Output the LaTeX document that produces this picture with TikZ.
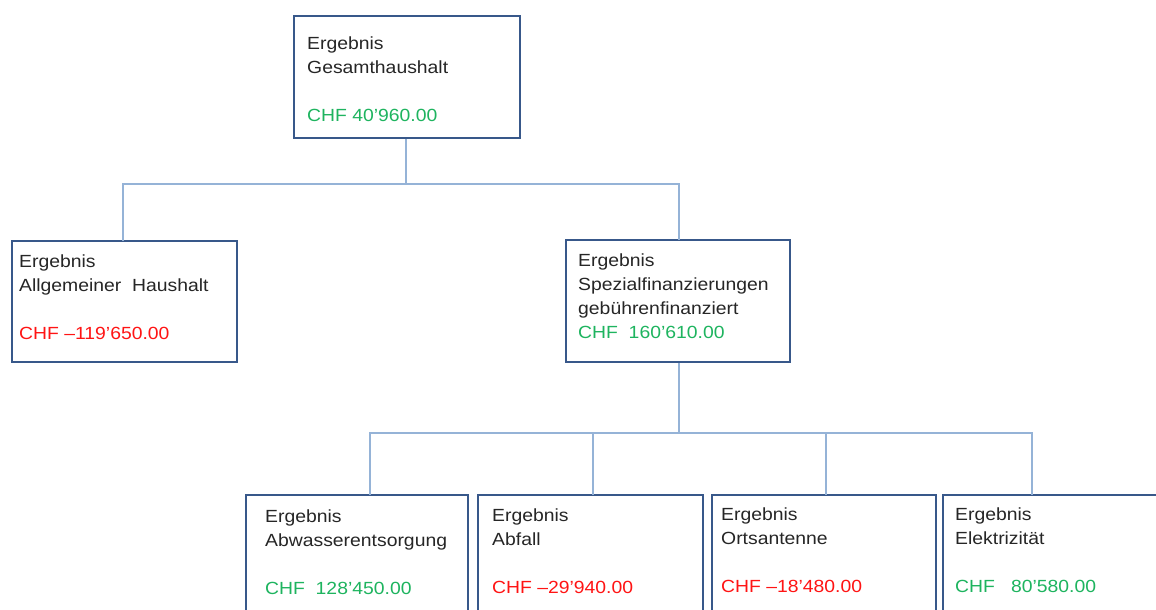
\documentclass[tikz,border=0pt]{standalone}
\usepackage{fontspec}
\setmainfont{Liberation Sans}[FakeStretch=1.1]
\definecolor{boxblue}{RGB}{56,88,138}
\definecolor{linkblue}{RGB}{149,179,215}
\definecolor{posgreen}{RGB}{30,180,95}
\definecolor{negred}{RGB}{255,20,20}
\begin{document}
\begin{tikzpicture}[x=1pt,y=-1pt,
  box/.style={draw=boxblue,line width=2.6pt,fill=white,rectangle,minimum width=224pt,minimum height=122pt,inner sep=0pt},
  txt/.style={anchor=base west,inner sep=0pt,align=left,font=\fontsize{17.6}{24}\selectfont,text=black!85},
  conn/.style={draw=linkblue,line width=1.2pt}]
\useasboundingbox (0,0) rectangle (1156,610);
\clip (0,0) rectangle (1156,610);
% boxes
\node[box,minimum width=226pt] (top) at (407,77) {};
\node[box,minimum width=225pt,minimum height=121pt] (left) at (124.5,301.5) {};
\node[box] (spez) at (678,301) {};
\node[box,minimum width=222pt] (b1) at (357,556) {};
\node[box,minimum width=225pt] (b2) at (590.5,556) {};
\node[box] (b3) at (824,556) {};
\node[box] (b4) at (1055,556) {};
% connectors
\coordinate (busA) at (406,184);
\coordinate (ta) at (123,241);
\coordinate (tb) at (679,240);
\draw[conn] (top.south -| busA) -- (busA);
\draw[conn] (busA) -| (ta);
\draw[conn] (busA) -| (tb);
\coordinate (busB) at (679,433);
\coordinate (t1) at (370,495);
\coordinate (t2) at (593,495);
\coordinate (t3) at (826,495);
\coordinate (t4) at (1032,495);
\draw[conn] (spez.south -| busB) -- (busB);
\draw[conn] (busB) -| (t1);
\draw[conn] (busB) -| (t4);
\draw[conn] (busB -| t2) -- (t2);
\draw[conn] (busB -| t3) -- (t3);
% texts (anchor = baseline of last line = first baseline + 72)
\node[txt] (topT) at (307,121.5) {Ergebnis\\Gesamthaushalt\\[24pt]\textcolor{posgreen}{CHF 40’960.00}};
\node[txt] (leftT) at (19,339) {Ergebnis\\Allgemeiner\ \ Haushalt\\[24pt]\textcolor{negred}{CHF –119’650.00}};
\node[txt] (spezT) at (578,338) {Ergebnis\\Spezialfinanzierungen\\gebührenfinanziert\\\textcolor{posgreen}{CHF\ \ 160’610.00}};
\node[txt] (b1T) at (265,594) {Ergebnis\\Abwasserentsorgung\\[24pt]\textcolor{posgreen}{CHF\ \ 128’450.00}};
\node[txt] (b2T) at (492,593) {Ergebnis\\Abfall\\[24pt]\textcolor{negred}{CHF –29’940.00}};
\node[txt] (b3T) at (721,592) {Ergebnis\\Ortsantenne\\[24pt]\textcolor{negred}{CHF –18’480.00}};
\node[txt] (b4T) at (955,592) {Ergebnis\\Elektrizität\\[24pt]\textcolor{posgreen}{CHF\ \ \ 80’580.00}};
\end{tikzpicture}
\end{document}
